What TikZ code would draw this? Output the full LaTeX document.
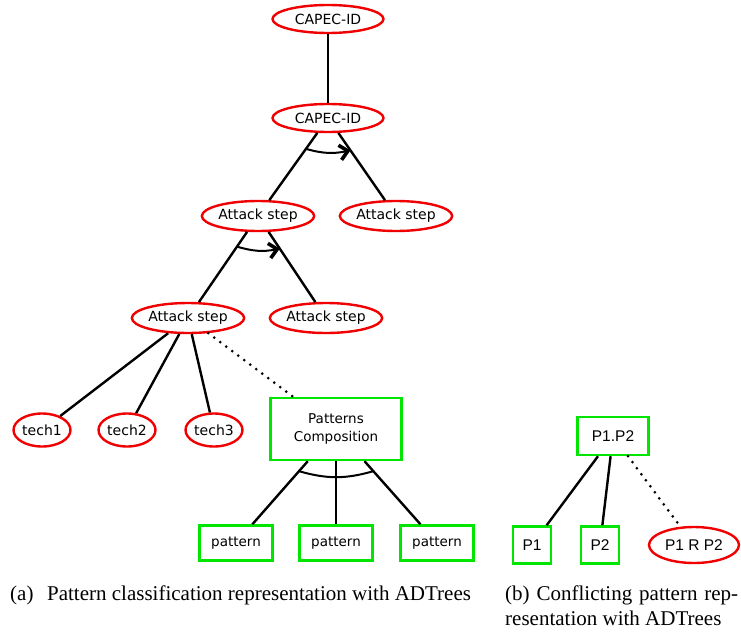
\documentclass[tikz,border=0pt]{standalone}
\usepackage{fontspec}
\setmainfont{Liberation Serif}
\newfontfamily\djv{DejaVu Sans}
\newfontfamily\lib{Liberation Sans}
\usetikzlibrary{shapes.geometric,arrows.meta,calc}
\definecolor{adred}{RGB}{240,0,0}
\definecolor{adgreen}{RGB}{0,230,0}
\begin{document}
\begin{tikzpicture}[x=1pt,y=-1pt,
  every node/.style={inner sep=0pt},
  redell/.style={ellipse,draw=adred,line width=2.4pt,font=\djv\fontsize{14}{16}\selectfont},
  capnode/.style={redell,minimum width=111pt,minimum height=28pt},
  stepnode/.style={redell,minimum width=110pt,minimum height=30pt},
  technode/.style={redell,minimum width=57pt,minimum height=33pt},
  grbox/.style={rectangle,draw=adgreen,line width=2.4pt,font=\djv\fontsize{13.5}{16}\selectfont},
  patnode/.style={grbox,minimum width=73pt,minimum height=35pt},
  compnode/.style={grbox,minimum width=131pt,minimum height=62pt,align=center},
  rbox/.style={rectangle,draw=adgreen,line width=2.4pt,font=\lib\fontsize{15.5}{18}\selectfont},
  rell/.style={ellipse,draw=adred,line width=2.4pt,font=\lib\fontsize{15.5}{18}\selectfont,minimum width=90pt,minimum height=36pt},
  conn/.style={line width=2.4pt},
  dotconn/.style={line width=3pt,line cap=round,dash pattern=on 0pt off 7.5pt},
  andarc/.style={line width=2pt},
  seqarc/.style={line width=2pt,-{Straight Barb[length=8pt,width=15pt,line width=3.6pt]}},
  capt/.style={font=\fontsize{21}{25}\selectfont,anchor=base west}
]
\useasboundingbox (0,0) rectangle (741,634);

% left tree
\node[capnode] (cap1) at (328,19) {CAPEC-ID};
\node[capnode] (cap2) at (328,118) {CAPEC-ID};
\node[stepnode] (as1) at (258,216) {Attack step};
\node[stepnode] (as2) at (396,216) {Attack step};
\node[stepnode] (as3) at (188,318) {Attack step};
\node[stepnode] (as4) at (326,318) {Attack step};
\node[technode] (t1) at (42,430) {tech1};
\node[technode] (t2) at (127,430) {tech2};
\node[technode] (t3) at (214,430) {tech3};
\node[compnode] (pc) at (336,429) {Patterns\\[2pt]Composition};
\node[patnode] (p1) at (236,543) {pattern};
\node[patnode] (p2) at (336,543) {pattern};
\node[patnode] (p3) at (437,543) {pattern};

\draw[conn] (cap1) -- (cap2);
\draw[conn] (cap2) -- (as1);
\draw[conn] (cap2) -- (as2);
\draw[conn] (as1) -- (as3);
\draw[conn] (as1) -- (as4);
\draw[conn] (as3) -- (t1);
\draw[conn] (as3) -- (t2);
\draw[conn] (as3) -- (t3);
\draw[dotconn] (as3) -- (pc);
\draw[conn] (pc) -- (p1);
\draw[conn] (pc) -- (p2);
\draw[conn] (pc) -- (p3);

\draw[seqarc] ($(cap2)!0.315!(as1)$) to[bend right=14] ($(cap2)!0.33!(as2)$);
\draw[seqarc] ($(as1)!0.30!(as3)$) to[bend right=14] ($(as1)!0.32!(as4)$);
\draw[andarc] ($(pc)!0.37!(p1)$) to[bend right=16] ($(pc)!0.37!(p3)$);

% right tree
\node[rbox,minimum width=71pt,minimum height=38pt] (pp) at (613,436) {P1.P2};
\node[rbox,minimum width=38pt,minimum height=37pt] (q1) at (532,545) {P1};
\node[rbox,minimum width=38pt,minimum height=37pt] (q2) at (600,545) {P2};
\node[rell] (rr) at (694,545) {P1 R P2};
\draw[conn] (pp) -- (q1);
\draw[conn] (pp) -- (q2);
\draw[dotconn] (pp) -- (rr);

% captions
\node[capt] (ca) at (10,600) {(a)\hspace{0.4em} Pattern classification representation with ADTrees};
\node[capt] (cb1) at (505,600) {\makebox[233pt][s]{(b) Conflicting pattern rep-}};
\node[capt] (cb2) at (505,625) {resentation with ADTrees};
\end{tikzpicture}
\end{document}
